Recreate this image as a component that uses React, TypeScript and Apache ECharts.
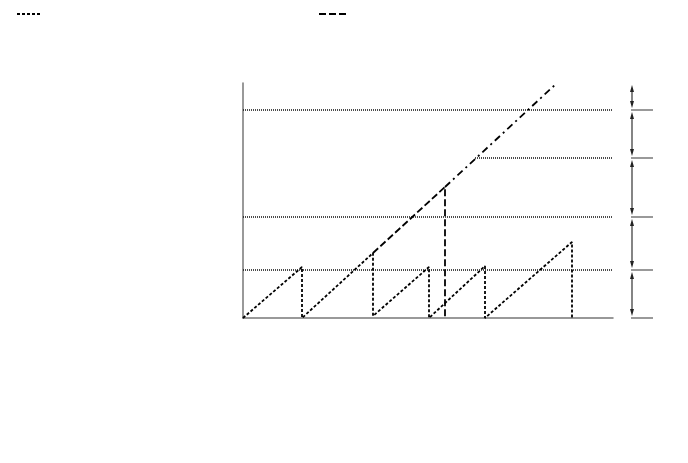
import React, { useEffect, useRef } from "react";
import * as echarts from "echarts";

// Sawtooth (dotted) path
const sawX = [0, 59, 59, 130, 130, 186, 186, 242, 242, 329, 329];
const sawY = [0, 51, 0, 65, 2, 51, 0, 52, 0, 76, 0];
// Dashed ramp continuation and vertical drop
const dashX = [130, 202, 202];
const dashY = [65, 131, 0];
// Dash-dot continuation
const dashDotX = [202, 314];
const dashDotY = [131, 235];
// Horizontal dotted guide lines
const guideY = [208, 160, 101, 48];
const guideStartX = [0, 232, 0, 0];
const guideEndX = 370;
// Dimension levels on the right
const levels = [0, 48, 101, 160, 208, 235];
const dimX = 389;
const tickStartX = 388;
const tickEndX = 410;

const zip = (xs: number[], ys: number[]) => xs.map((x, i) => [x, ys[i]]);

export default function App() {
  const ref = useRef<HTMLDivElement>(null);
  useEffect(() => {
    if (!ref.current) return;
    const chart = echarts.init(ref.current, undefined, { renderer: "svg" });

    const dimData = levels.slice(0, -1).map((lv, i) => [dimX, lv, levels[i + 1]]);

    const guideSeries = guideY.map((y, i) => ({
      type: "line",
      silent: true,
      symbol: "none",
      data: [
        [guideStartX[i], y],
        [guideEndX, y],
      ],
      lineStyle: { color: "#111", width: 1.3, type: [1, 1] },
      z: 2,
    }));

    chart.setOption({
      animation: false,
      grid: { left: 243, top: 83, width: 370, height: 235 },
      xAxis: {
        type: "value",
        min: 0,
        max: 370,
        axisLine: { show: true, lineStyle: { color: "#777", width: 1.5 } },
        axisTick: { show: false },
        axisLabel: { show: false },
        splitLine: { show: false },
      },
      yAxis: {
        type: "value",
        min: 0,
        max: 235,
        axisLine: { show: true, lineStyle: { color: "#777", width: 1.5 } },
        axisTick: { show: false },
        axisLabel: { show: false },
        splitLine: { show: false },
      },
      graphic: [
        {
          type: "line",
          shape: { x1: 17, y1: 14, x2: 42, y2: 14 },
          style: { stroke: "#000", lineWidth: 1.8, lineDash: [3, 2] },
        },
        {
          type: "line",
          shape: { x1: 319, y1: 14, x2: 348, y2: 14 },
          style: { stroke: "#000", lineWidth: 1.8, lineDash: [7, 3] },
        },
      ],
      series: [
        ...guideSeries,
        {
          type: "line",
          silent: true,
          symbol: "none",
          data: zip(sawX, sawY),
          lineStyle: { color: "#000", width: 1.8, type: [3, 2] },
          z: 3,
        },
        {
          type: "line",
          silent: true,
          symbol: "none",
          data: zip(dashX, dashY),
          lineStyle: { color: "#000", width: 1.8, type: [7, 3] },
          z: 3,
        },
        {
          type: "line",
          silent: true,
          symbol: "none",
          data: zip(dashDotX, dashDotY),
          lineStyle: { color: "#000", width: 1.8, type: [7, 4, 2, 4] },
          z: 3,
        },
        {
          type: "custom",
          silent: true,
          clip: false,
          data: dimData,
          renderItem: (params: any, api: any) => {
            const x = api.value(0);
            const y0 = api.value(1);
            const y1 = api.value(2);
            const p0 = api.coord([x, y0]);
            const p1 = api.coord([x, y1]);
            const px = p0[0];
            const bot = p0[1] - 2;
            const top = p1[1] + 2;
            const children: any[] = [
              {
                type: "line",
                shape: { x1: px, y1: bot - 4, x2: px, y2: top + 4 },
                style: { stroke: "#333", lineWidth: 1.2 },
              },
              {
                type: "polygon",
                shape: { points: [[px, bot], [px - 2, bot - 7], [px + 2, bot - 7]] },
                style: { fill: "#222" },
              },
              {
                type: "polygon",
                shape: { points: [[px, top], [px - 2, top + 7], [px + 2, top + 7]] },
                style: { fill: "#222" },
              },
            ];
            const t0 = api.coord([tickStartX, y0]);
            const t1 = api.coord([tickEndX, y0]);
            children.push({
              type: "line",
              shape: { x1: t0[0], y1: t0[1], x2: t1[0], y2: t1[1] },
              style: { stroke: "#777", lineWidth: 1.5 },
            });
            return { type: "group", children };
          },
          z: 4,
        },
      ],
    });
    return () => chart.dispose();
  }, []);
  return (
    <div
      ref={ref}
      style={{ position: "fixed", left: 0, top: 0, width: 688, height: 463, background: "#fff" }}
    />
  );
}
